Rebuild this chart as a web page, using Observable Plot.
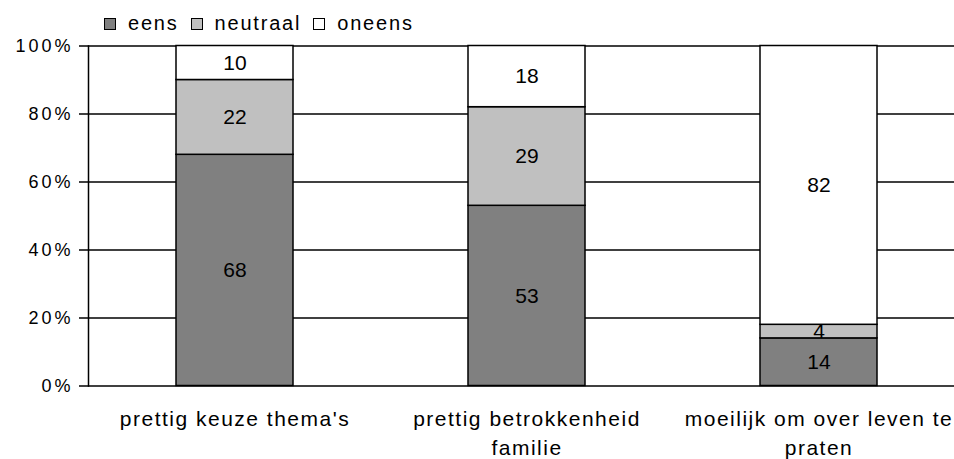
<!DOCTYPE html>
<html>
<head>
<meta charset="utf-8">
<script src="https://cdn.jsdelivr.net/npm/d3@7"></script>
<script src="https://cdn.jsdelivr.net/npm/@observablehq/plot@0.6"></script>
<style>
  html, body { margin: 0; padding: 0; background: #fff; }
  body { width: 954px; height: 459px; overflow: hidden; font-family: "Liberation Sans", Arial, sans-serif; }
  #legend { height: 36px; display: flex; align-items: flex-start; padding-left: 104px; box-sizing: border-box; }
  #legend .item { display: flex; align-items: center; height: 23px; margin-top: 12px; margin-right: 12px; }
  #legend .sw { width: 10px; height: 10px; border: 1px solid #000; margin-right: 12px; }
  #legend .lbl { font-size: 20px; letter-spacing: 1.8px; line-height: 23px; color: #000; }
  svg { display: block; }
  g[aria-label="y-axis tick label"] text { letter-spacing: 3px; }
  g[aria-label="x-axis tick label"] text { letter-spacing: 1.5px; }
  g[aria-label="values"] text { letter-spacing: 0.8px; }
</style>
</head>
<body>
<div id="legend"></div>
<div id="chart"></div>
<script>
const categories = ["prettig keuze thema's", "prettig betrokkenheid familie", "moeilijk om over leven te praten"];
const categoryLabels = ["prettig keuze thema's", "prettig betrokkenheid\nfamilie", "moeilijk om over leven te\npraten"];
const series = ["eens", "neutraal", "oneens"];
const eens = [68, 53, 14];
const neutraal = [22, 29, 4];
const oneens = [10, 18, 82];
const seriesColors = ["#808080", "#c0c0c0", "#ffffff"];
const yTicks = [0, 20, 40, 60, 80, 100];

const seriesValues = [eens, neutraal, oneens];
const data = [];
series.forEach((s, si) => {
  categories.forEach((c, ci) => {
    data.push({category: c, series: s, value: seriesValues[si][ci]});
  });
});

// legend
const legend = document.getElementById("legend");
series.forEach((s, i) => {
  const item = document.createElement("div");
  item.className = "item";
  const sw = document.createElement("div");
  sw.className = "sw";
  sw.style.background = seriesColors[i];
  const lbl = document.createElement("span");
  lbl.className = "lbl";
  lbl.textContent = s;
  item.appendChild(sw);
  item.appendChild(lbl);
  legend.appendChild(item);
});

const labelOf = new Map(categories.map((c, i) => [c, categoryLabels[i]]));

const chart = Plot.plot({
  width: 954,
  height: 423,
  marginTop: 9.5,
  marginBottom: 73.5,
  marginLeft: 88,
  marginRight: 0,
  style: {fontFamily: '"Liberation Sans", Arial, sans-serif', fontSize: "18px", color: "#000", background: "#fff"},
  x: {domain: categories, range: [88, 964], paddingInner: 0.6, paddingOuter: 0.3, axis: null, label: null},
  y: {domain: [0, 100], axis: null, label: null},
  color: {domain: series, range: seriesColors},
  marks: [
    Plot.gridY(yTicks, {stroke: "#000", strokeOpacity: 1, strokeWidth: 1.5}),
    Plot.barY(data, {x: "category", y: "value", z: "series", fill: "series", stroke: "#000", strokeWidth: 1.5}),
    Plot.text(data, Plot.stackY({x: "category", y: "value", z: "series", text: d => String(d.value), fontSize: 21, fill: "#000", ariaLabel: "values"})),
    Plot.axisY(yTicks, {tickSize: 9, tickPadding: 6, tickFormat: d => d + "%", stroke: "#000", strokeWidth: 1.5, fontSize: 18, label: null}),
    Plot.axisX({tickSize: 0, tickPadding: 19, tickFormat: d => labelOf.get(d), fontSize: 21, lineHeight: 29 / 21, label: null}),
    Plot.frame({anchor: "left", stroke: "#000", strokeWidth: 1.5})
  ]
});
document.getElementById("chart").appendChild(chart);
</script>
</body>
</html>
